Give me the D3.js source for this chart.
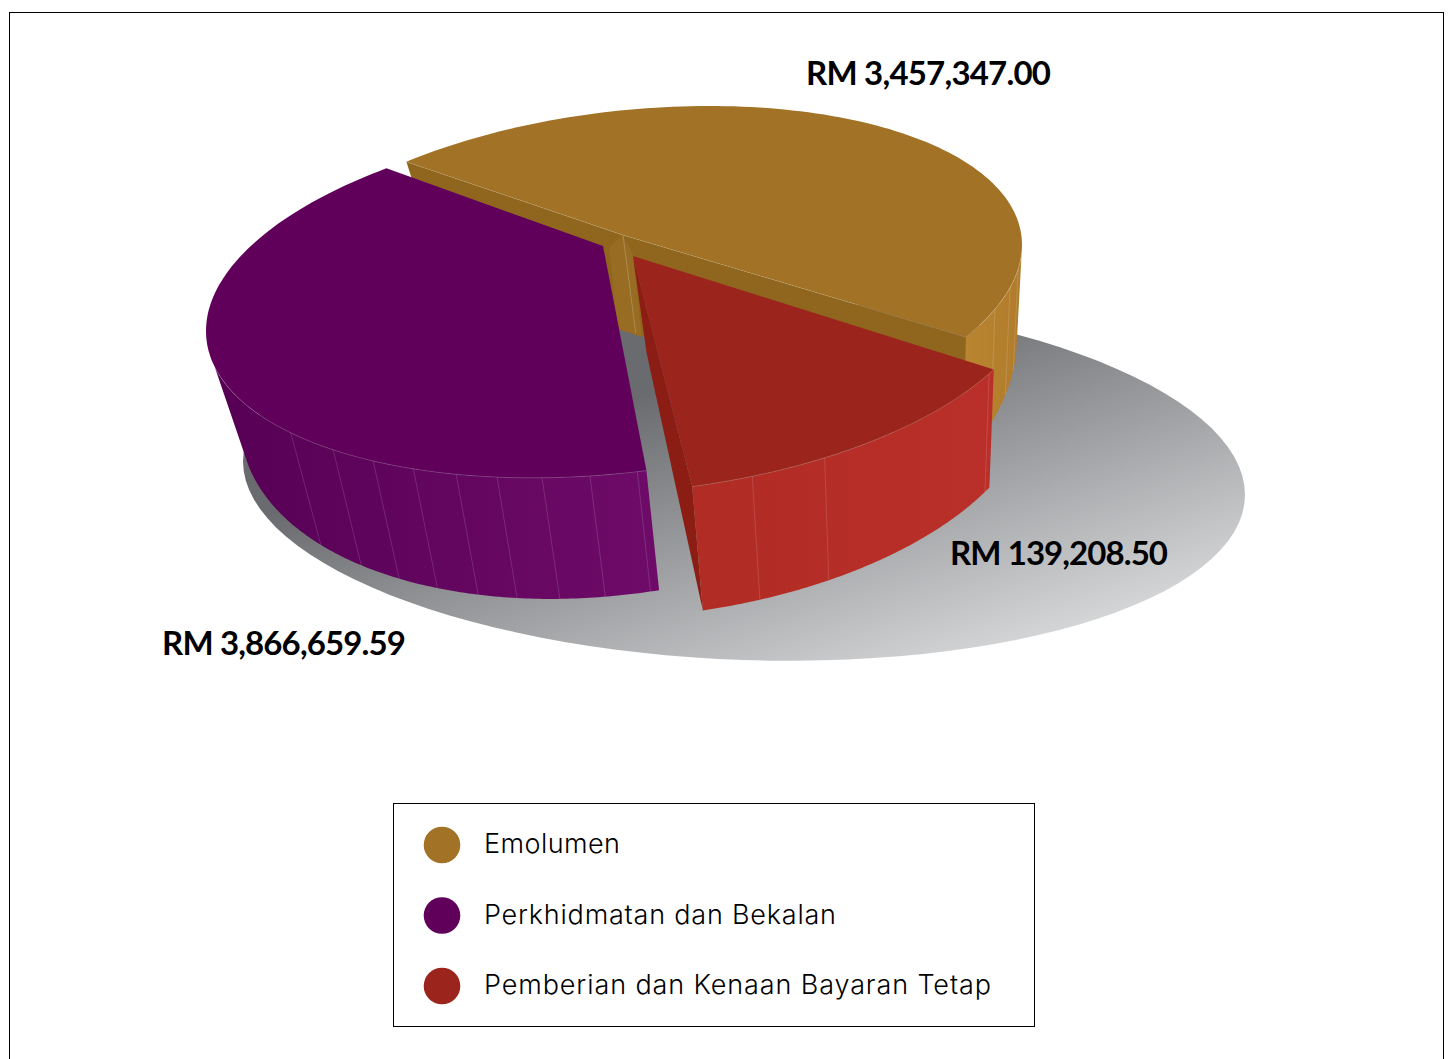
<!DOCTYPE html>
<html><head><meta charset="utf-8">
<script src="https://cdn.jsdelivr.net/npm/d3@7"></script>
<style>html,body{margin:0;padding:0;background:#fff;overflow:hidden}svg{display:block}</style>
</head><body>
<script>
// ---- data ----
const categories = ["Emolumen", "Perkhidmatan dan Bekalan", "Pemberian dan Kenaan Bayaran Tetap"];
const amountLabels = ["RM 3,457,347.00", "RM 3,866,659.59", "RM 139,208.50"];
// drawn size of each wedge, in percent of the pie
const drawnShares = [43.4, 41.7, 14.9];
const colours = ["#a27226", "#60005a", "#9b251c"];

// ---- 3D view geometry (layout only) ----
const W = 1448, H = 1059, rad = d => d * Math.PI / 180;
const order = [0, 2, 1]; // clockwise order of the wedges
const views = [
 {c:[637,277], rx:385, sh:-32,   k:168, t:[-126.8,31.3], apex:[623,235], d:[21.5,.3], kx:.045, apexDepth:98,
  wall:[2,31.3], wallStops:["#ba8530","#b07c2c"], seams:[8,14.3,21.6], lx:806, lw:245, ly:85},
 {c:[606,298], rx:400, sh:-33, k:176.8, t:[84.2,236.7], apex:[603,246], d:[25.5,.2], kx:.049, apexDepth:null,
  wall:[84.2,168], wallStops:["#560055","#6e0b68"], seams:[85.5,92.3,99.2,105.8,112,118.8,125.6,133,142], lx:162, lw:244, ly:655},
 {c:[640,312], rx:400, sh:-30,   k:180, t:[27.8,82.5], apex:[633,256], d:[99.55,.05], kx:.05, apexDepth:97,
  wall:[27.8,82.5], wallStops:["#b02c24","#ba2f29"], seams:[29.2,62.5,73.7], lx:950, lw:218, ly:565}
];
const shadow = {c:[744,478], rx:501, sh:16.7, k:182};

const svg = d3.select("body").append("svg").attr("width",W).attr("height",H).attr("viewBox",`0 0 ${W} ${H}`);
const defs = svg.append("defs");
svg.append("rect").attr("width",W).attr("height",H).attr("fill","#fff");
// outer frame (its bottom edge lies outside the picture)
svg.append("rect").attr("x",9.5).attr("y",12.5).attr("width",1434).attr("height",1100).attr("fill","none").attr("stroke","#000").attr("stroke-width",1);

const colour = d3.scaleOrdinal().domain(categories).range(colours);
const pie = d3.pie().value(d => d.share).sort((a,b) => order.indexOf(a.i) - order.indexOf(b.i));
const arcs = pie(drawnShares.map((share,i) => ({share,i})));
const line = d3.line();

const onEllipse = (v,deg) => { const t = rad(deg);
  return [v.c[0] + v.rx*Math.cos(t), v.c[1] + v.sh*Math.cos(t) + v.k*Math.sin(t)]; };
const lower = (v,p) => [p[0] + (905-p[0])*v.kx, p[1] + v.d[0] + v.d[1]*p[1]];
const lowerApex = v => { const b = lower(v,v.apex);
  return v.apexDepth ? [b[0], v.apex[1]+v.apexDepth] : b; };
const samples = (a,b) => d3.range(0,121).map(i => a + (b-a)*i/120);

// table shadow
const sg = defs.append("linearGradient").attr("id","shadowGrad").attr("gradientUnits","userSpaceOnUse")
  .attr("x1",1001).attr("y1",280).attr("x2",1107).attr("y2",613);
sg.append("stop").attr("offset",0).attr("stop-color","#6a6b6e");
sg.append("stop").attr("offset",1).attr("stop-color","#d3d4d6");
svg.append("path").attr("fill","url(#shadowGrad)")
  .attr("d", line(samples(0,360).map(t => onEllipse(shadow,t)))+"Z");

const drawSlice = (i, extra) => {
  const v = views[i], a = arcs[i], g = svg.append("g");
  const toT = d3.scaleLinear().domain([a.startAngle,a.endAngle]).range(v.t);
  const [t0,t1] = [toT(a.startAngle), toT(a.endAngle)];
  const topPts = samples(t0,t1).map(t => onEllipse(v,t));
  const A = v.apex, B = lowerApex(v);
  if (extra) extra(g,v,topPts,A,B);
  // outer wall
  const gid = "wall"+i;
  const wa = samples(v.wall[0],v.wall[1]).map(t => onEllipse(v,t));
  const xs = d3.extent(wa,p => p[0]);
  const lg = defs.append("linearGradient").attr("id",gid).attr("gradientUnits","userSpaceOnUse")
    .attr("x1", xs[0]).attr("x2", xs[1]).attr("y1",0).attr("y2",0);
  lg.append("stop").attr("offset",0).attr("stop-color",v.wallStops[0]);
  lg.append("stop").attr("offset",1).attr("stop-color",v.wallStops[1]);
  g.append("path").attr("fill",`url(#${gid})`)
    .attr("d", line(wa.concat(wa.map(p => lower(v,p)).reverse()))+"Z");
  g.selectAll("line.seam").data(v.seams).join("line").attr("class","seam")
    .each(function(t){ const p = onEllipse(v,t), q = lower(v,p);
      d3.select(this).attr("x1",p[0]).attr("y1",p[1]).attr("x2",q[0]).attr("y2",q[1]); })
    .attr("stroke","#fff").attr("stroke-opacity",.2).attr("stroke-width",.7);
  // top face
  g.append("path").attr("fill",colour(categories[i]))
    .attr("d", line(topPts.concat([A]))+"Z");
  // thin light rim where top meets wall
  g.append("path").attr("fill","none").attr("stroke","#fff").attr("stroke-opacity",.28).attr("stroke-width",.6)
    .attr("d", line(samples(v.wall[0],v.wall[1]).map(t => onEllipse(v,t))));
  return g;
};

// gold wedge with its two cut faces
drawSlice(0,(g,v,pts,A,B) => {
  const first = pts[0], last = pts[pts.length-1];
  g.append("path").attr("fill","#90661f")
    .attr("d", line([first,A,last,lower(v,last),B,lower(v,first)])+"Z");
  g.append("path").attr("fill","#986c22")
    .attr("d", line([[A[0]-14,A[1]+12],A,[A[0]+10,A[1]+20],[B[0]+6,B[1]+4],[B[0]-18,B[1]-4]])+"Z");
  g.append("line").attr("x1",A[0]).attr("y1",A[1]).attr("x2",B[0]).attr("y2",B[1])
    .attr("stroke","#fff").attr("stroke-opacity",.3).attr("stroke-width",.7);
  g.append("path").attr("fill","none").attr("stroke","#fff").attr("stroke-opacity",.35).attr("stroke-width",.6)
    .attr("d", line([first,A,last]));
});
drawSlice(1);
// red wedge, with the dark cut face running from its apex to the front corner
drawSlice(2,(g,v,pts,A,B) => {
  const last = pts[pts.length-1];
  g.append("path").attr("fill","#8c1d14")
    .attr("d", line([A,last,lower(v,last),B])+"Z");
});

// value labels
svg.selectAll("text.value").data(amountLabels).join("text").attr("class","value")
  .attr("x",(d,i)=>views[i].lx).attr("y",(d,i)=>views[i].ly)
  .attr("textLength",(d,i)=>views[i].lw).attr("lengthAdjust","spacing")
  .attr("font-family","Lato, 'Open Sans', sans-serif").attr("font-weight",700).attr("font-size",33)
  .attr("fill","#000").text(d=>d);

// legend
const legend = svg.append("g");
legend.append("rect").attr("x",393.5).attr("y",803.5).attr("width",641).attr("height",223)
  .attr("fill","#fff").attr("stroke","#000").attr("stroke-width",1);
const legendY = d3.scalePoint().domain(categories).range([845,986]);
const legendWidths = [136,352,507];
const rows = legend.selectAll("g.row").data(categories).join("g").attr("class","row")
  .attr("transform",d=>`translate(0,${legendY(d)})`);
rows.append("circle").attr("cx",442).attr("cy",0).attr("r",18.3).attr("fill",d=>colour(d));
rows.append("text").attr("x",484).attr("y",8).attr("textLength",(d,i)=>legendWidths[i]).attr("lengthAdjust","spacing")
  .attr("font-family","Inter, Lato, sans-serif").attr("font-weight",300).attr("font-size",27)
  .attr("fill","#000").text(d=>d);
</script>
</body></html>
